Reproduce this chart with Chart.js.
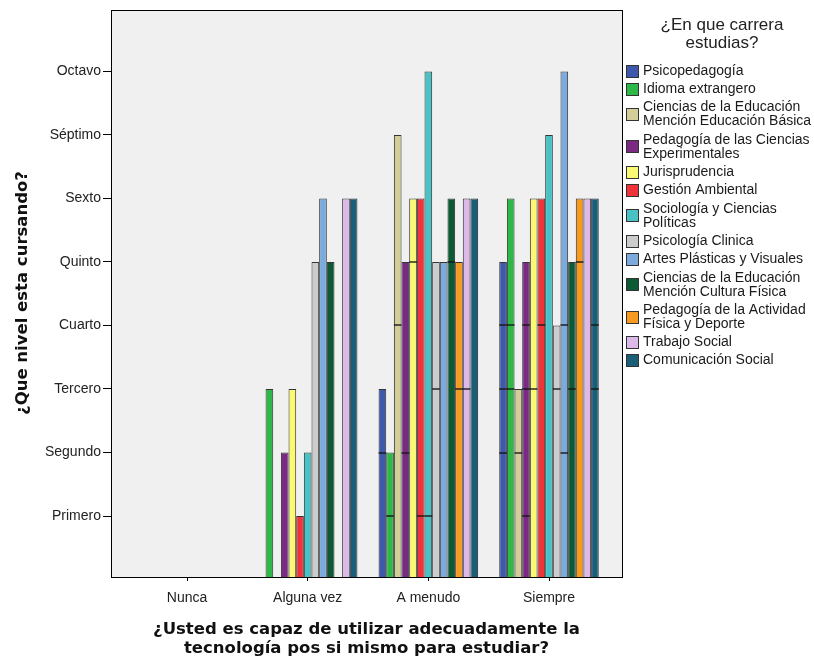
<!DOCTYPE html>
<html>
<head>
    <title>Nivel por carrera</title>
    <script src="https://cdn.jsdelivr.net/npm/chart.js@4.4.0/dist/chart.umd.min.js"></script>
    <style>
        body { margin: 0; background: #fff; }
        #wrap { width: 814px; height: 660px; position: relative; }
    </style>
</head>
<body>
<div id="wrap"><canvas id="myChart"></canvas></div>
<script>
    // categorias del eje x y niveles del eje y
    var categories = ["Nunca", "Alguna vez", "A menudo", "Siempre"];
    var levels = ["Primero", "Segundo", "Tercero", "Cuarto", "Quinto", "Sexto", "Séptimo", "Octavo"];

    var careers = [
        "Psicopedagogía",
        "Idioma extrangero",
        "Ciencias de la Educación\nMención Educación Básica",
        "Pedagogía de las Ciencias\nExperimentales",
        "Jurisprudencia",
        "Gestión Ambiental",
        "Sociología y Ciencias\nPolíticas",
        "Psicología Clinica",
        "Artes Plásticas y Visuales",
        "Ciencias de la Educación\nMención Cultura Física",
        "Pedagogía de la Actividad\nFísica y Deporte",
        "Trabajo Social",
        "Comunicación Social"
    ];
    var colors = ["#3E58AC", "#2EB848", "#D3CE97", "#7B2A84", "#FBF873", "#EF3338", "#48C2C5",
                  "#CCCCCC", "#7BAADC", "#0B5A33", "#F89A1F", "#DDB9EA", "#1B5E78"];

    // nivel mas alto por carrera (Nunca, Alguna vez, A menudo, Siempre)
    var psicopedagogia = [null, null, 3, 5];
    var idioma         = [null, 3, 2, 6];
    var cienciasBasica = [null, null, 7, 3];
    var pedCiencias    = [null, 2, 5, 5];
    var jurisprudencia = [null, 3, 6, 6];
    var gestion        = [null, 1, 6, 6];
    var sociologia     = [null, 2, 8, 7];
    var psicologia     = [null, 5, 5, 4];
    var artes          = [null, 6, 5, 8];
    var culturaFisica  = [null, 5, 6, 5];
    var pedActividad   = [null, null, 5, 6];
    var trabajoSocial  = [null, 6, 6, 6];
    var comunicacion   = [null, 6, 6, 6];

    // otros niveles que aparecen dentro de cada barra
    var psicopedagogiaIn = [[], [], [2], [2, 3, 4]];
    var idiomaIn         = [[], [], [1], [3, 4]];
    var cienciasBasicaIn = [[], [], [4], [2]];
    var pedCienciasIn    = [[], [], [2], [1, 3, 4]];
    var jurisprudenciaIn = [[], [], [5], [3]];
    var gestionIn        = [[], [], [1], [4]];
    var sociologiaIn     = [[], [], [1], []];
    var psicologiaIn     = [[], [], [3], [3]];
    var artesIn          = [[], [], [], [2, 4]];
    var culturaFisicaIn  = [[], [], [5], [3]];
    var pedActividadIn   = [[], [], [3], [5]];
    var trabajoSocialIn  = [[], [], [3], []];
    var comunicacionIn   = [[], [], [], [3, 4]];

    var series = [psicopedagogia, idioma, cienciasBasica, pedCiencias, jurisprudencia, gestion,
                  sociologia, psicologia, artes, culturaFisica, pedActividad, trabajoSocial, comunicacion];
    var inner = [psicopedagogiaIn, idiomaIn, cienciasBasicaIn, pedCienciasIn, jurisprudenciaIn, gestionIn,
                 sociologiaIn, psicologiaIn, artesIn, culturaFisicaIn, pedActividadIn, trabajoSocialIn, comunicacionIn];

    var datasets = series.map(function (vals, i) {
        return {
            label: careers[i],
            backgroundColor: colors[i],
            borderColor: "rgba(20,20,20,0.85)",
            borderWidth: 1,
            data: vals.map(function (v, j) { return { x: j, y: v }; })
        };
    });

    var frameAndLegend = {
        id: "frameAndLegend",
        beforeDraw: function (chart) {
            var a = chart.chartArea, ctx = chart.ctx;
            ctx.save();
            ctx.fillStyle = "#F0F0F0";
            ctx.fillRect(a.left, a.top, a.right - a.left, a.bottom - a.top);
            ctx.restore();
        },
        afterDatasetsDraw: function (chart) {
            var ctx = chart.ctx, y = chart.scales.y;
            ctx.save();
            ctx.strokeStyle = "rgba(20,20,20,0.9)";
            ctx.lineWidth = 1.5;
            chart.data.datasets.forEach(function (ds, i) {
                var meta = chart.getDatasetMeta(i);
                meta.data.forEach(function (bar, j) {
                    (inner[i][j] || []).forEach(function (lv) {
                        var py = Math.round(y.getPixelForValue(lv));
                        ctx.beginPath();
                        ctx.moveTo(bar.x - bar.width / 2, py);
                        ctx.lineTo(bar.x + bar.width / 2, py);
                        ctx.stroke();
                    });
                });
            });
            ctx.restore();
        },
        afterDraw: function (chart) {
            var a = chart.chartArea, ctx = chart.ctx;
            ctx.save();
            // marco
            ctx.strokeStyle = "#000";
            ctx.lineWidth = 1;
            ctx.strokeRect(Math.round(a.left) + 0.5, Math.round(a.top) + 0.5,
                           Math.round(a.right - a.left), Math.round(a.bottom - a.top));

            // titulos de ejes
            ctx.fillStyle = "#111";
            ctx.textAlign = "center";
            ctx.textBaseline = "middle";
            ctx.font = "bold 16.5px 'DejaVu Sans'";
            var cx = (a.left + a.right) / 2;
            ctx.fillText("¿Usted es capaz de utilizar adecuadamente la", cx, 630);
            ctx.fillText("tecnología pos si mismo para estudiar?", cx, 649);
            ctx.save();
            ctx.translate(23, 293);
            ctx.rotate(-Math.PI / 2);
            ctx.fillText("¿Que nivel esta cursando?", 0, 0);
            ctx.restore();

            // leyenda
            ctx.font = "17px 'Liberation Sans'";
            ctx.fillStyle = "#222";
            ctx.fillText("¿En que carrera", 722, 25);
            ctx.fillText("estudias?", 722, 43);

            ctx.font = "14px 'Liberation Sans'";
            ctx.textAlign = "left";
            var ly = 71;
            chart.data.datasets.forEach(function (ds) {
                var lines = ds.label.split("\n");
                var mid = ly + (lines.length - 1) * 14 / 2;
                ctx.fillStyle = ds.backgroundColor;
                ctx.fillRect(626, Math.round(mid - 6.5), 13, 13);
                ctx.strokeStyle = "#333";
                ctx.strokeRect(626.5, Math.round(mid - 6.5) + 0.5, 12, 12);
                ctx.fillStyle = "#1a1a1a";
                lines.forEach(function (t, k) { ctx.fillText(t, 643, ly + k * 14); });
                ly += (lines.length - 1) * 14 + 18.3;
            });
            ctx.restore();
        }
    };

    var ctx = document.getElementById("myChart").getContext("2d");
    var myChart = new Chart(ctx, {
        type: "bar",
        data: { datasets: datasets },
        plugins: [frameAndLegend],
        options: {
            responsive: true,
            maintainAspectRatio: false,
            animation: false,
            layout: { padding: { left: 0, top: 8, right: 192, bottom: 0 } },
            datasets: { bar: { categoryPercentage: 0.825, barPercentage: 1 } },
            plugins: { legend: { display: false }, tooltip: { enabled: false } },
            scales: {
                x: {
                    type: "linear",
                    offset: false,
                    min: -0.63,
                    max: 3.605,
                    afterBuildTicks: function (s) { s.ticks = categories.map(function (c, i) { return { value: i }; }); },
                    afterFit: function (s) { s.height = 83; },
                    grid: { drawOnChartArea: false, offset: false, tickLength: 4, color: "#000" },
                    border: { display: false },
                    ticks: {
                        padding: 9,
                        color: "#222",
                        font: { family: "Liberation Sans", size: 14 },
                        callback: function (v) { return categories[v]; }
                    }
                },
                y: {
                    min: 0.04,
                    max: 8.96,
                    afterBuildTicks: function (s) { s.ticks = levels.map(function (l, i) { return { value: i + 1 }; }); },
                    afterFit: function (s) { s.width = 111; },
                    grid: { drawOnChartArea: false, tickLength: 8, color: "#000" },
                    border: { display: false },
                    ticks: {
                        padding: 2,
                        color: "#222",
                        font: { family: "Liberation Sans", size: 14 },
                        callback: function (v) { return levels[v - 1]; }
                    }
                }
            }
        }
    });
</script>
</body>
</html>
